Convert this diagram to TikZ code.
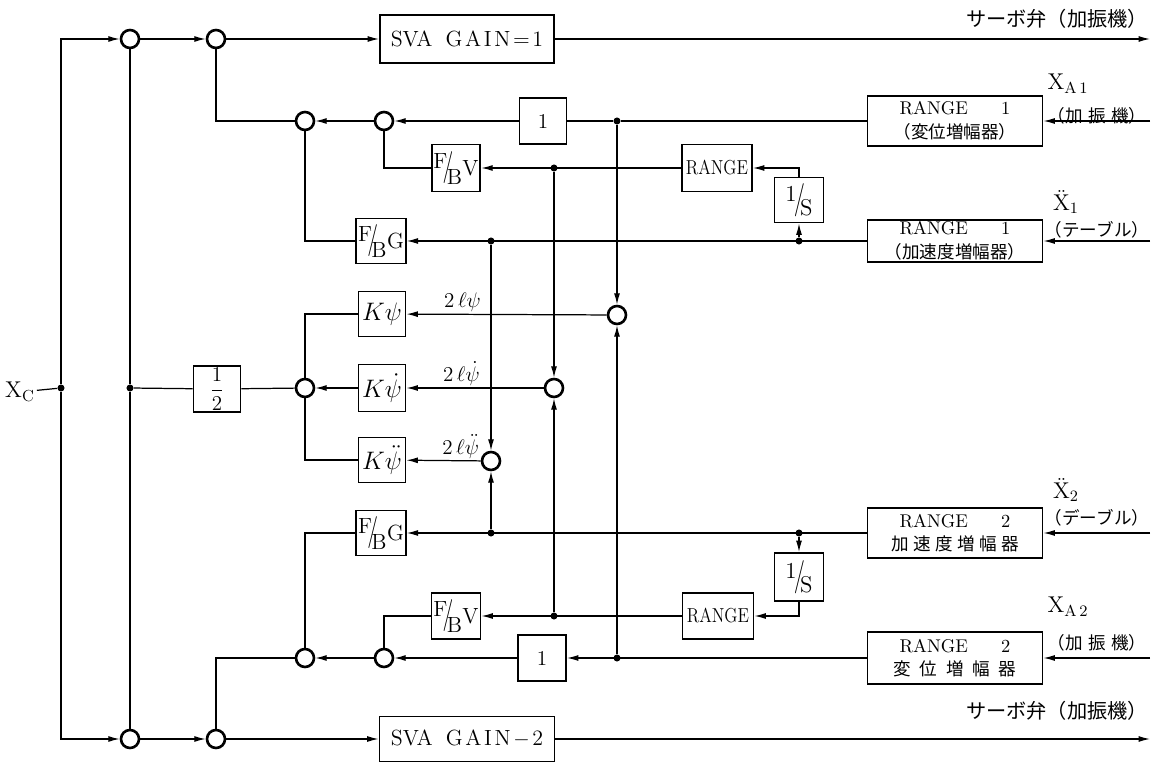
\documentclass[tikz,border=0pt]{standalone}
\usepackage{fontspec}
\usepackage{graphicx}
\newfontfamily\jp{Noto Sans CJK JP}
\usetikzlibrary{arrows.meta}
\newcommand{\fbk}[1]{\raisebox{0.3em}{F}\kern-0.22em\scalebox{1}[1.45]{/}\kern-0.3em\raisebox{-0.4em}{B}\kern0.02em#1}
\newcommand{\invs}{\raisebox{0.28em}{1}\kern-0.12em\scalebox{1}[1.45]{/}\kern-0.22em\raisebox{-0.3em}{S}}
\begin{document}
\begin{tikzpicture}[x=0.02cm,y=-0.02cm,
  blk/.style={draw,line width=1.1pt,inner sep=1pt,align=center,font=\fontsize{10.5}{13.5}\selectfont},
  sum/.style={circle,draw,line width=1.5pt,minimum size=0.36cm,inner sep=0pt},
  dot/.style={circle,fill,minimum size=4pt,inner sep=0pt},
  ln/.style={line width=0.7pt},
  arr/.style={ln,-{Latex[length=6.5pt,width=3.4pt]}},
  lbl/.style={inner sep=1pt,font=\fontsize{13}{15}\selectfont},
  jlbl/.style={inner sep=1pt,font=\fontsize{10}{12}\selectfont\jp}
  ]
\useasboundingbox (0,0) rectangle (1154,763);
\node[blk,minimum width=3.48cm,minimum height=0.96cm,font=\fontsize{12.5}{14}\selectfont] (sva1) at (467,39) {SVA\hspace{0.6em}G\kern1.5pt A\kern1.5pt I\kern1.5pt N\kern1.5pt=\kern1.5pt 1};
\node[blk,minimum width=3.5cm,minimum height=0.9cm,font=\fontsize{12.5}{14}\selectfont] (sva2) at (467,739) {SVA\hspace{0.6em}G\kern1.5pt A\kern1.5pt I\kern1.5pt N\kern1.5pt$-$\kern1.5pt 2};
\node[sum] (s1t) at (130,39) {};
\node[sum] (s2t) at (216,39) {};
\node[sum] (s1b) at (130,739) {};
\node[sum] (s2b) at (216,739) {};
\node[sum] (s3t) at (305,121) {};
\node[sum] (s4t) at (384,121) {};
\node[sum] (s3b) at (305,658) {};
\node[sum] (s4b) at (384,658) {};
\node[sum] (sk) at (305,388) {};
\node[sum] (c0) at (617,315) {};
\node[sum] (c1) at (554,388) {};
\node[sum] (c2) at (491,461) {};
\node[blk,minimum width=0.94cm,minimum height=0.92cm,font=\fontsize{12}{14}\selectfont] (one1) at (543,121) {1};
\node[blk,minimum width=0.96cm,minimum height=0.92cm,font=\fontsize{12}{14}\selectfont] (one2) at (542,658) {1};
\node[blk,minimum width=0.96cm,minimum height=0.94cm,font=\fontsize{12.5}{14}\selectfont] (fbv1) at (456,168) {\fbk{V}};
\node[blk,minimum width=0.98cm,minimum height=0.92cm,font=\fontsize{12.5}{14}\selectfont] (fbv2) at (456,616) {\fbk{V}};
\node[blk,minimum width=0.96cm,minimum height=0.9cm,font=\fontsize{12.5}{14}\selectfont] (fbg1) at (381,241) {\fbk{G}};
\node[blk,minimum width=0.96cm,minimum height=0.9cm,font=\fontsize{12.5}{14}\selectfont] (fbg2) at (381,533) {\fbk{G}};
\node[blk,minimum width=1.4cm,minimum height=0.94cm,font=\fontsize{11.5}{13}\selectfont] (rng1) at (717,168) {\scalebox{0.85}[1]{RANGE}};
\node[blk,minimum width=1.42cm,minimum height=0.92cm,font=\fontsize{11.5}{13}\selectfont] (rng2) at (718,616) {\scalebox{0.85}[1]{RANGE}};
\node[blk,minimum width=0.98cm,minimum height=0.9cm,font=\fontsize{13}{15}\selectfont] (inv1) at (799,200) {\invs};
\node[blk,minimum width=0.98cm,minimum height=0.96cm,font=\fontsize{13}{15}\selectfont] (inv2) at (799,577) {\invs};
\node[blk,minimum width=3.5cm,minimum height=1.0cm] (r1d) at (955,121) {RANGE\hspace{1.8em}1\\{\jp\fontsize{10}{12}\selectfont （変位増幅器）}};
\node[blk,minimum width=3.5cm,minimum height=0.84cm] (r1a) at (955,241) {RANGE\hspace{1.8em}1\\{\jp\fontsize{10}{12}\selectfont （加速度増幅器）}};
\node[blk,minimum width=3.5cm,minimum height=1.0cm] (r2a) at (955,533) {RANGE\hspace{1.8em}2\\{\jp\fontsize{10}{12}\selectfont 加\kern2.5pt 速\kern2.5pt 度\kern2.5pt 増\kern2.5pt 幅\kern2.5pt 器}};
\node[blk,minimum width=3.5cm,minimum height=1.04cm] (r2d) at (955,658) {RANGE\hspace{1.8em}2\\{\jp\fontsize{10}{12}\selectfont 変\kern5pt 位\kern5pt 増\kern5pt 幅\kern5pt 器}};
\node[blk,minimum width=0.94cm,minimum height=0.9cm,font=\fontsize{14}{16}\selectfont] (kp0) at (382,314) {$K\psi$};
\node[blk,minimum width=0.94cm,minimum height=0.94cm,font=\fontsize{14}{16}\selectfont] (kp1) at (382,388) {$K\dot\psi$};
\node[blk,minimum width=0.94cm,minimum height=0.9cm,font=\fontsize{14}{16}\selectfont] (kp2) at (382,460) {$K\ddot\psi$};
\node[blk,minimum width=0.94cm,minimum height=0.92cm,font=\fontsize{11.5}{13}\selectfont] (half) at (217,389) {$\displaystyle\frac{1}{2}$};
\node[dot] (j1) at (617,121) {};
\node[dot] (j2) at (554,168) {};
\node[dot] (j3) at (491,241) {};
\node[dot] (j4) at (799,241) {};
\node[dot] (j5) at (491,533) {};
\node[dot] (j6) at (799,533) {};
\node[dot] (j7) at (554,616) {};
\node[dot] (j8) at (617,658) {};
\node[dot] (j9) at (61,388) {};
\node[dot] (j10) at (130,388) {};
\node[lbl] (xc) at (20,392) {$\mathrm{X_C}$};
\coordinate (o1) at (1150,39);
\coordinate (o2) at (1150,739);
\coordinate (i1) at (1150,121);
\coordinate (i2) at (1150,241);
\coordinate (i3) at (1150,533);
\coordinate (i4) at (1150,658);
\node[jlbl,anchor=east,font=\fontsize{11.5}{13}\selectfont\jp] (srv1) at (1150,19) {サーボ弁（加振機）};
\node[jlbl,anchor=east,font=\fontsize{11.5}{13}\selectfont\jp] (srv2) at (1150,711) {サーボ弁（加振機）};
\node[lbl] (xa1) at (1068,84) {$\mathrm{X}_{\mathrm{A\,1}}$};
\node[jlbl] (xa1t) at (1097,116) {（加\kern3pt 振\kern3pt 機）};
\node[lbl] (xd1) at (1066,202) {$\ddot{\mathrm{X}}_1$};
\node[jlbl] (xd1t) at (1097,230) {（テーブル）};
\node[lbl] (xd2) at (1066,490) {$\ddot{\mathrm{X}}_2$};
\node[jlbl] (xd2t) at (1097,518) {（デーブル）};
\node[lbl] (xa2) at (1068,607) {$\mathrm{X}_{\mathrm{A\,2}}$};
\node[jlbl] (xa2t) at (1097,643) {（加\kern3pt 振\kern3pt 機）};
\draw[ln] (xc) -- (j9);
\draw[arr] (j9) |- (s1t);
\draw[arr] (j9) |- (s1b);
\draw[arr] (s1t) -- (s2t);
\draw[arr] (s2t) -- (sva1);
\draw[arr] (sva1) -- (o1);
\draw[arr] (s1b) -- (s2b);
\draw[arr] (s2b) -- (sva2);
\draw[arr] (sva2) -- (o2);
\draw[ln] (j10) -- (s1t);
\draw[ln] (j10) -- (s1b);
\draw[ln] (j10) -- (half);
\draw[ln] (half) -- (sk);
\draw[ln] (kp0.west) -| (sk.north);
\draw[arr] (kp1) -- (sk);
\draw[ln] (kp2.west) -| (sk.south);
\draw[arr] (c0) -- node[lbl,above,pos=0.72,font=\fontsize{12.5}{14}\selectfont]{$2\,\ell\psi$} (kp0);
\draw[arr] (c1) -- node[lbl,above,pos=0.6,font=\fontsize{12.5}{14}\selectfont]{$2\,\ell\dot\psi$} (kp1);
\draw[arr] (c2) -- node[lbl,above,pos=0.27,font=\fontsize{12.5}{14}\selectfont]{$2\,\ell\ddot\psi$} (kp2);
\draw[ln] (s3t.west) -| (s2t.south);
\draw[arr] (s4t) -- (s3t);
\draw[arr] (one1) -- (s4t);
\draw[ln] (r1d) -- (j1) -- (one1);
\draw[arr] (i1) -- (r1d);
\draw[ln] (fbv1.west) -| (s4t.south);
\draw[arr] (rng1) -- (fbv1);
\draw[arr] (inv1.north) |- (rng1.east);
\draw[arr] (j4) -- (inv1);
\draw[arr] (r1a) -- (fbg1);
\draw[ln] (fbg1.west) -| (s3t.south);
\draw[arr] (i2) -- (r1a);
\draw[arr] (i3) -- (r2a);
\draw[arr] (r2a) -- (fbg2);
\draw[ln] (fbg2.west) -| (s3b.north);
\draw[arr] (j6) -- (inv2);
\draw[arr] (inv2.south) |- (rng2.east);
\draw[arr] (rng2) -- (fbv2);
\draw[ln] (fbv2.west) -| (s4b.north);
\draw[arr] (i4) -- (r2d);
\draw[arr] (r2d) -- (one2);
\draw[arr] (one2) -- (s4b);
\draw[arr] (s4b) -- (s3b);
\draw[ln] (s3b.west) -| (s2b.north);
\draw[arr] (j1) -- (c0);
\draw[arr] (j8) -- (c0);
\draw[arr] (j2) -- (c1);
\draw[arr] (j7) -- (c1);
\draw[arr] (j3) -- (c2);
\draw[arr] (j5) -- (c2);
\end{tikzpicture}
\end{document}
